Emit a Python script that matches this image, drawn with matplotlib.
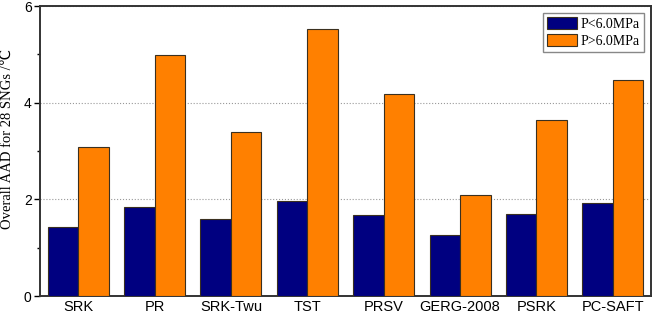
import numpy as np
import matplotlib.pyplot as plt
from matplotlib.ticker import MultipleLocator

models = ['SRK', 'PR', 'SRK-Twu', 'TST', 'PRSV', 'GERG-2008', 'PSRK', 'PC-SAFT']
aad_low = [1.43, 1.85, 1.59, 1.97, 1.68, 1.26, 1.70, 1.93]
aad_high = [3.09, 4.98, 3.39, 5.52, 4.17, 2.10, 3.64, 4.46]

x = np.arange(len(models))
w = 0.4

fig = plt.figure(figsize=(6.53, 3.16), dpi=100)
ax = fig.add_axes([40 / 653, 20 / 316, 611 / 653, 290 / 316])

ax.bar(x - w / 2, aad_low, w, color='#000080', edgecolor='#3a3020', linewidth=0.8,
       label='P<6.0MPa', zorder=3)
ax.bar(x + w / 2, aad_high, w, color='#ff8000', edgecolor='#3a3020', linewidth=0.8,
       label='P>6.0MPa', zorder=3)

ax.set_xlim(-0.5, len(models) - 0.5)
ax.set_ylim(0, 6)
ax.set_xticks(x)
ax.set_xticklabels(models, fontfamily='Liberation Sans', fontsize=10.5)
ax.tick_params(axis='x', length=0, pad=3)
ax.yaxis.set_major_locator(MultipleLocator(2))
ax.yaxis.set_minor_locator(MultipleLocator(1))
ax.tick_params(axis='y', which='major', length=4, width=1, labelsize=10, pad=2)
ax.tick_params(axis='y', which='minor', length=2.5, width=1)
for lab in ax.get_yticklabels():
    lab.set_fontfamily('Liberation Sans')
ax.grid(axis='y', linestyle=':', color='#999999', linewidth=0.8, zorder=0)

for s in ax.spines.values():
    s.set_linewidth(1.4)
    s.set_color('#333333')

ax.set_ylabel('Overall AAD for 28 SNGs /\u2103', fontfamily=['Liberation Serif', 'DejaVu Sans'],
              fontsize=10.5)
ax.yaxis.set_label_coords(-26 / 611, 0.54)

leg = ax.legend(loc='upper right', prop={'family': 'Liberation Serif', 'size': 10},
                fancybox=False, edgecolor='#888888', framealpha=1,
                handlelength=2.15, handleheight=0.9, borderpad=0.3,
                labelspacing=0.25, handletextpad=0.3, borderaxespad=0.5)
leg.get_frame().set_linewidth(1)

fig.savefig('out.png', dpi=100)
